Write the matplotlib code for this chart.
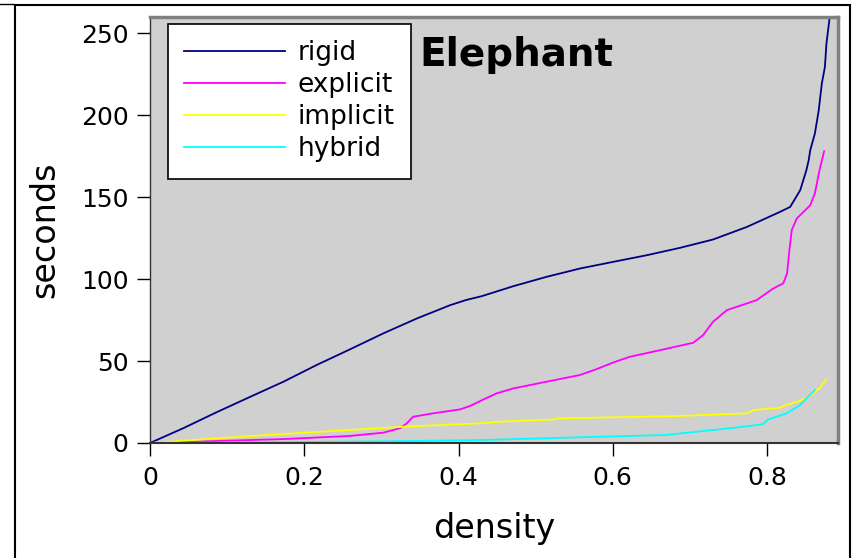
import numpy as np
import matplotlib
matplotlib.use('Agg')
import matplotlib.pyplot as plt
from matplotlib.lines import Line2D

# curves (density -> seconds)
rigid_x = [0, 0.043, 0.086, 0.13, 0.173, 0.216, 0.259, 0.3025, 0.346, 0.389, 0.41, 0.43, 0.471,
           0.514, 0.5575, 0.601, 0.644, 0.687, 0.73, 0.774, 0.817, 0.83, 0.843, 0.851,
           0.854, 0.856, 0.862, 0.867, 0.871, 0.875, 0.877, 0.881]
rigid_y = [0, 9, 18.7, 28.2, 37.4, 47.6, 57.1, 66.9, 76, 84.1, 87.3, 89.6, 95.7,
           101.4, 106.5, 110.6, 114.6, 119.1, 124.2, 131.9, 141.1, 144.1, 154.3, 166.5,
           172.6, 178.7, 188.8, 203, 219.3, 229.5, 243.7, 259]

explicit_x = [0, 0.086, 0.173, 0.259, 0.3025, 0.324, 0.333, 0.341, 0.367, 0.402, 0.415,
              0.432, 0.4495, 0.471, 0.514, 0.5575, 0.579, 0.601, 0.622, 0.6656, 0.7044,
              0.717, 0.73, 0.748, 0.7866, 0.808, 0.821, 0.826, 0.829, 0.832, 0.8385,
              0.856, 0.862, 0.868, 0.874]
explicit_y = [0, 1.2, 2.4, 4.3, 6.3, 9, 12, 16, 18.1, 20.5, 22.6,
              26.5, 30.3, 33.3, 37.4, 41.5, 45.1, 49.2, 52.6, 57.1, 61.2,
              65.8, 74, 81.1, 87.2, 94.3, 97.4, 103.5, 117.7, 129.9, 137,
              145.1, 152.3, 166.5, 178]

implicit_x = [0, 0.1, 0.201, 0.331, 0.428, 0.454, 0.525, 0.528, 0.687, 0.774, 0.782,
              0.817, 0.821, 0.8385, 0.851, 0.862, 0.868, 0.8765]
implicit_y = [0, 3.3, 6.3, 10, 12, 13, 14.4, 15, 16.5, 18.1, 20.1,
              21.5, 22.6, 25.2, 27.2, 31.3, 33.3, 38.8]

hybrid_x = [0, 0.1, 0.2, 0.3, 0.428, 0.5575, 0.67, 0.696, 0.73, 0.778, 0.795, 0.8017,
            0.8255, 0.843, 0.851, 0.862]
hybrid_y = [0, 0.3, 0.6, 1.0, 1.8, 3.5, 4.9, 6.3, 7.9, 10.4, 11.6, 14.4,
            18.1, 23.2, 27.2, 32.3]

xticks = [0, 0.2, 0.4, 0.6, 0.8]
xticklabels = ['0', '0.2', '0.4', '0.6', '0.8']
yticks = [0, 50, 100, 150, 200, 250]

fig = plt.figure(figsize=(8.52, 5.58), dpi=100)
ax = fig.add_axes([150/852, 115/558, 688/852, 426/558])
ax.set_facecolor('#d0d0d0')

ax.plot(rigid_x, rigid_y, color='#000080', lw=1.3, label='rigid')
ax.plot(explicit_x, explicit_y, color='#ff00ff', lw=1.3, label='explicit')
ax.plot(implicit_x, implicit_y, color='#ffff00', lw=1.3, label='implicit')
ax.plot(hybrid_x, hybrid_y, color='#00ffff', lw=1.3, label='hybrid')

ax.set_xlim(0, 0.892)
ax.set_ylim(0, 260)
ax.set_xticks(xticks)
ax.set_xticklabels(xticklabels)
ax.set_yticks(yticks)
ax.tick_params(labelsize=18, length=9.5, width=1, pad=6, direction='out')
ax.tick_params(axis='x', pad=7)

for s in ['top', 'right']:
    ax.spines[s].set_color('#808080')
    ax.spines[s].set_linewidth(2.5)
ax.spines['left'].set_color('#333333')
ax.spines['left'].set_linewidth(1)
ax.spines['bottom'].set_color('#333333')
ax.spines['bottom'].set_linewidth(1.5)

ax.set_xlabel('density', fontsize=24, labelpad=16)
ax.set_ylabel('seconds', fontsize=24, labelpad=14)

ax.text(0.392, 0.955, 'Elephant', transform=ax.transAxes, fontsize=28,
        fontweight='bold', va='top', ha='left')

leg = ax.legend(loc='upper left', bbox_to_anchor=(0.026, 0.984), fontsize=19,
                fancybox=False, framealpha=1, edgecolor='black',
                handlelength=3.8, handletextpad=0.5, labelspacing=0.23,
                borderpad=0.62, borderaxespad=0)
leg.get_frame().set_linewidth(1.2)

# outer frame lines around the figure
fig.add_artist(Line2D([14.5/852, 14.5/852], [0, 1 - 4.5/558], color='black', lw=1.5))
fig.add_artist(Line2D([849.5/852, 849.5/852], [0, 1 - 4.5/558], color='black', lw=1.5))
fig.add_artist(Line2D([14.5/852, 849.5/852], [1 - 4.5/558, 1 - 4.5/558], color='black', lw=1.5))
fig.add_artist(Line2D([0, 13/852], [1 - 3.5/558, 1 - 3.5/558], color='black', lw=1))

fig.savefig('out.png', dpi=100)
